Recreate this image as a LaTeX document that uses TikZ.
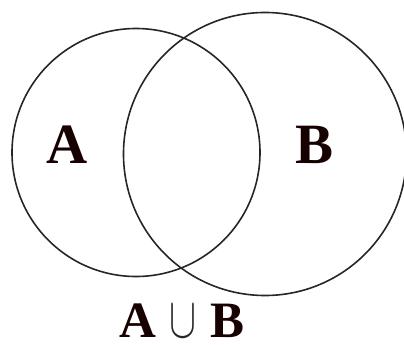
\documentclass[tikz,border=0pt]{standalone}
\usepackage{fontspec}
\usepackage{graphicx}
\setmainfont{Liberation Serif}
\begin{document}
\begin{tikzpicture}[x=1pt,y=-1pt,
  setcircle/.style={draw=black!85,line width=1.6pt},
  biglabel/.style={anchor=base,inner sep=0pt,text=black!85!red!60!black,font=\fontsize{57}{60}\selectfont\bfseries},
  unionlabel/.style={anchor=base,inner sep=0pt,text depth=0pt,text=black!85!red!60!black,font=\fontsize{51}{54}\selectfont\bfseries}]
\useasboundingbox (0,0) rectangle (404,345);
\clip (0,0) rectangle (404,345);
\draw[setcircle] (136,152.5) circle[radius=124];
\draw[setcircle] (265,154) circle[radius=141.5];
\node[biglabel] (la) at (67,163) {A};
\node[biglabel] (lb) at (315,163) {B};
\node[unionlabel] (ua) at (137.5,337) {A};
\node[anchor=base,inner sep=0pt,text depth=0pt,text=black!85] (cup) at (182.5,337) {\resizebox{27pt}{32pt}{$\cup$}};
\node[unionlabel] (ub) at (228,337) {B};
\end{tikzpicture}
\end{document}
